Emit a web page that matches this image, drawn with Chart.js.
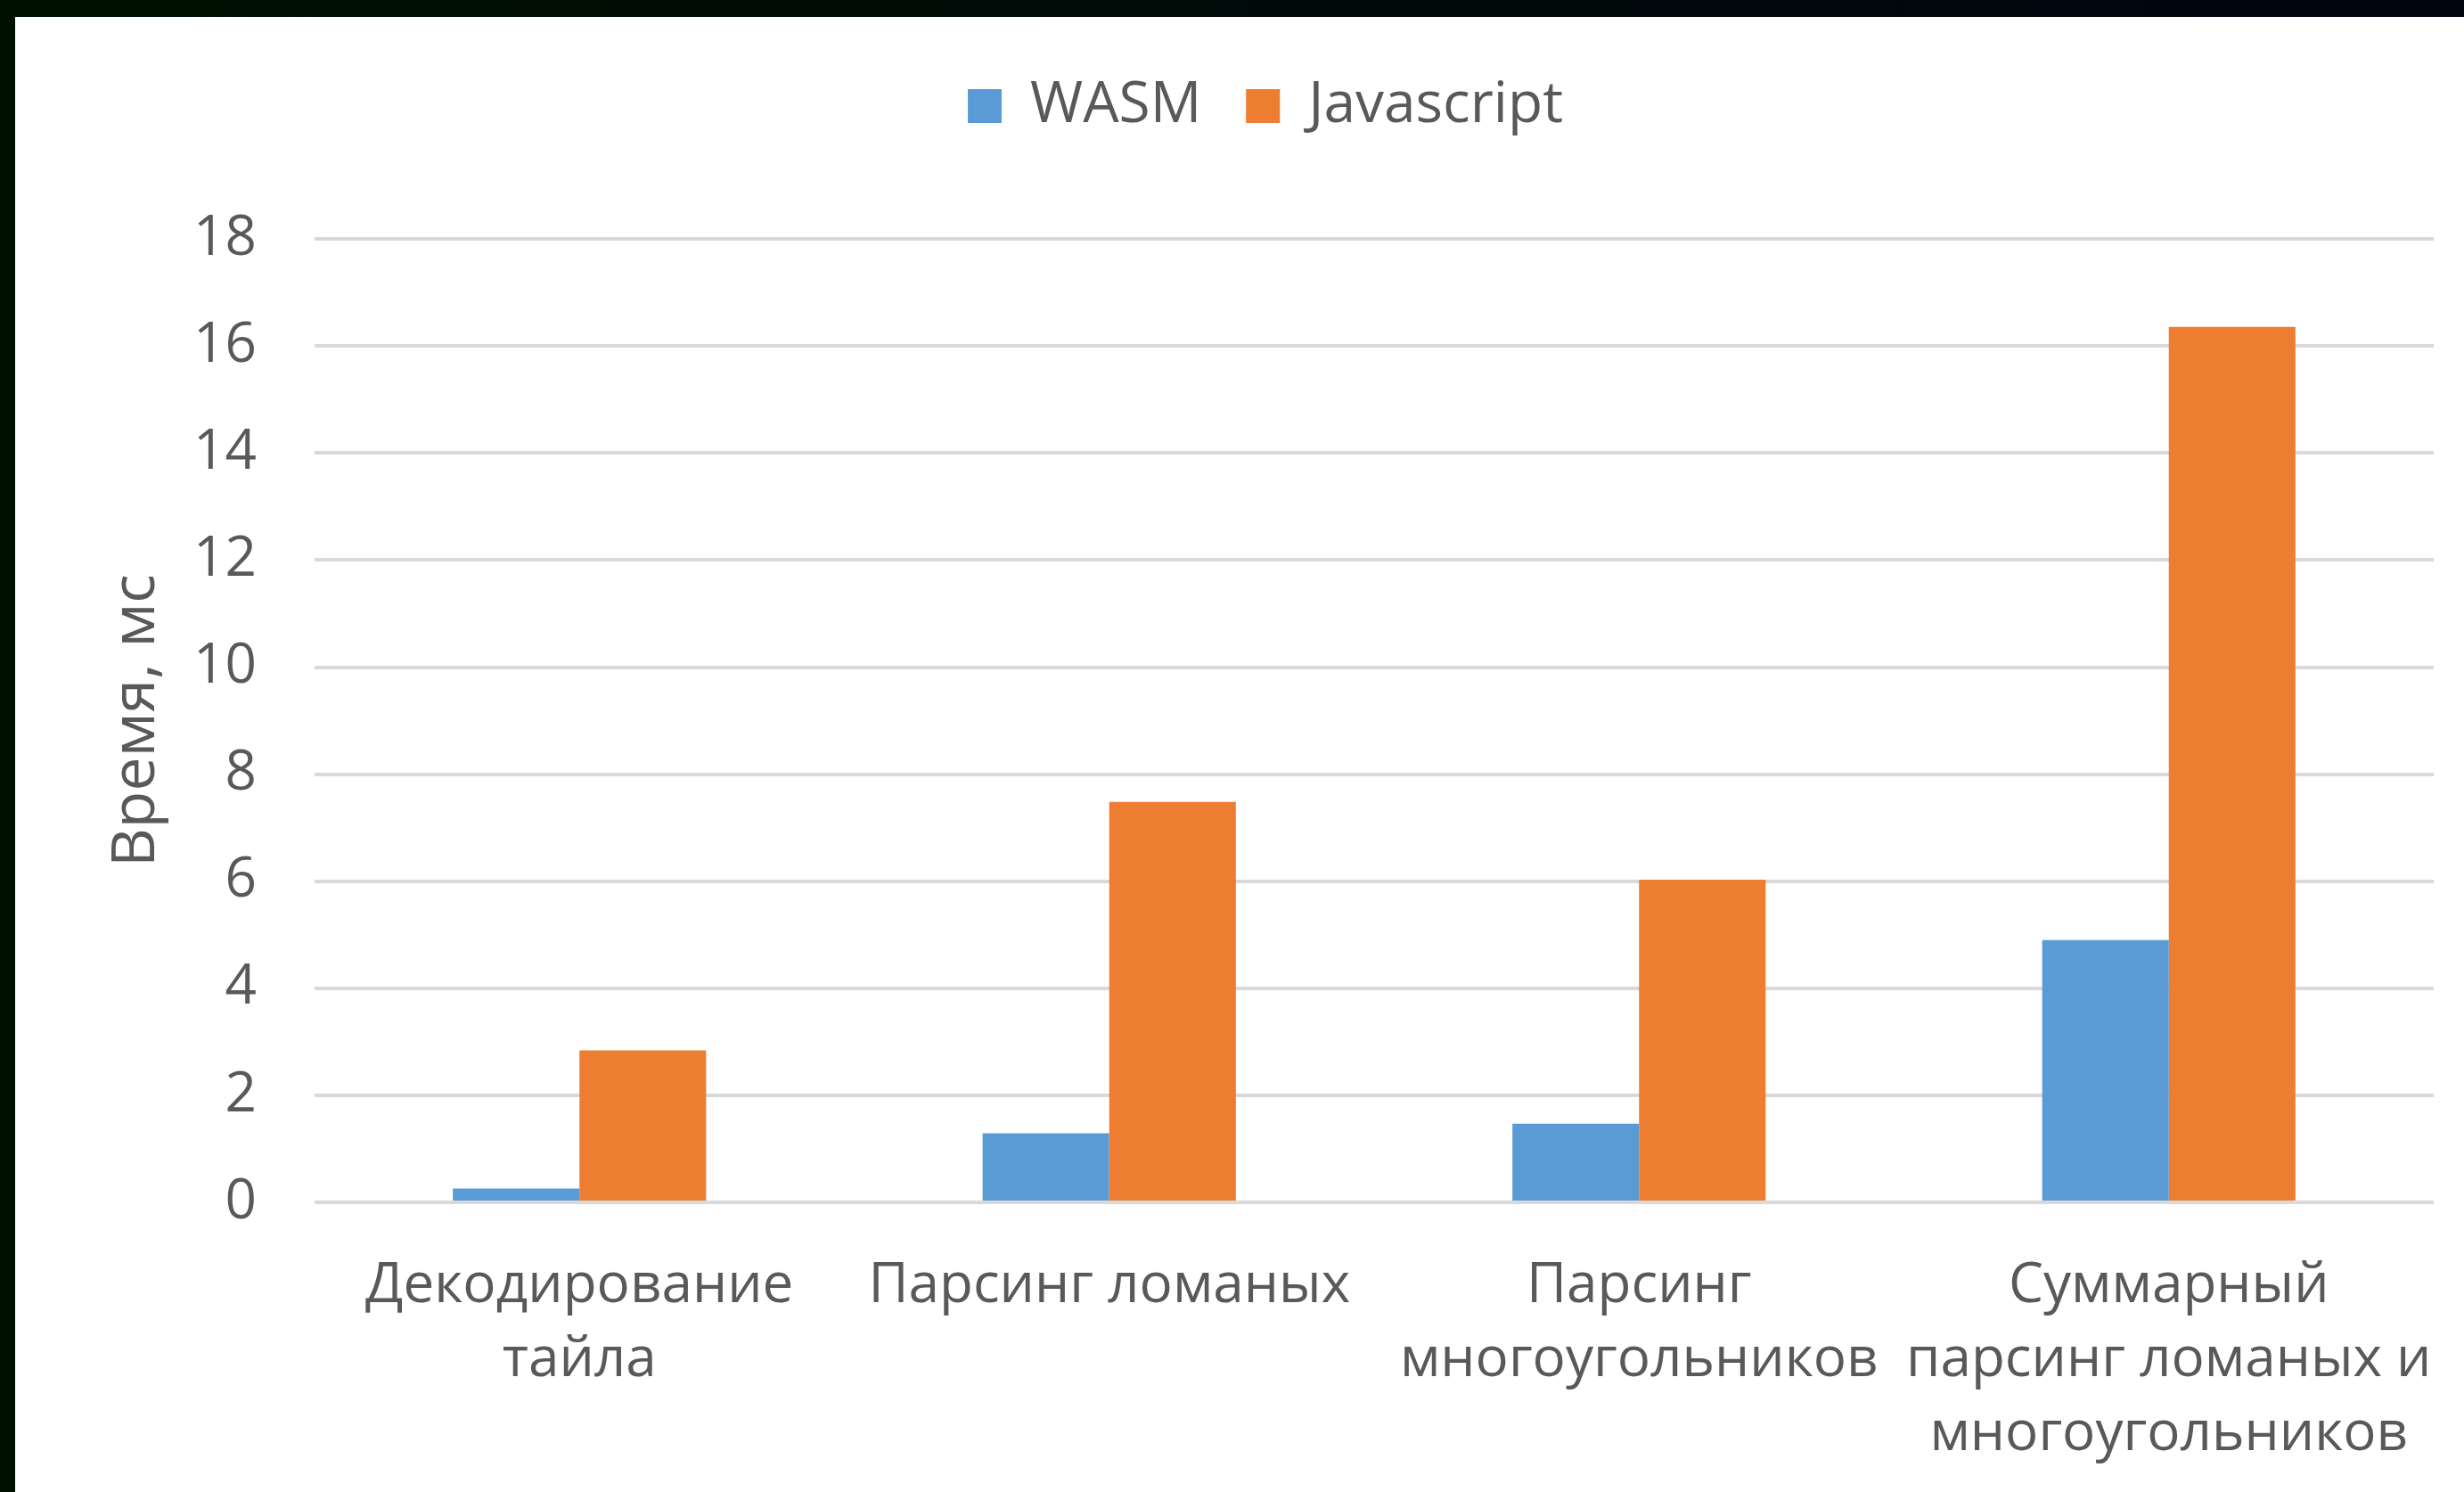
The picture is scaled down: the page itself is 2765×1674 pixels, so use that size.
<!DOCTYPE html>
<html>
<head>
<meta charset="utf-8">
<script src="https://cdn.jsdelivr.net/npm/chart.js@4"></script>
<style>
  html, body { margin: 0; padding: 0; width: 2765px; height: 1674px; overflow: hidden;
    background: linear-gradient(to right, #001100, #000a08 50%, #000510); }
  #wrap { position: absolute; left: 17px; top: 19px; width: 2748px; height: 1655px; background: #ffffff; }
  canvas { display: block; }
</style>
</head>
<body>
<div id="wrap"><canvas id="c" width="2748" height="1655"></canvas></div>
<script>
const categories = [
  ["Декодирование", "тайла"],
  ["Парсинг ломаных"],
  ["Парсинг", "многоугольников"],
  ["Суммарный", "парсинг ломаных и", "многоугольников"]
];
const wasmValues = [0.26, 1.29, 1.47, 4.9];
const jsValues = [2.84, 7.48, 6.03, 16.36];
const seriesNames = ["WASM", "Javascript"];
const yTitle = "Время, мс";

const FONT = "'Open Sans', 'Noto Sans', sans-serif";
const TEXT = "#595959";

new Chart(document.getElementById("c"), {
  type: "bar",
  data: {
    labels: categories,
    datasets: [
      { label: seriesNames[0], data: wasmValues, backgroundColor: "#5B9BD5", borderWidth: 0 },
      { label: seriesNames[1], data: jsValues, backgroundColor: "#ED7D31", borderWidth: 0 }
    ]
  },
  options: {
    responsive: false,
    animation: false,
    events: [],
    layout: { padding: { top: 18, left: 92, right: 34, bottom: 0 } },
    plugins: {
      legend: {
        position: "top",
        labels: {
          font: { family: FONT, size: 64 },
          color: TEXT,
          boxWidth: 38,
          boxHeight: 38,
          padding: 50
        }
      },
      title: {
        display: true,
        text: " ",
        position: "top",
        weight: 500,
        font: { size: 1 },
        padding: { top: 0, bottom: 106 }
      },
      tooltip: { enabled: false }
    },
    datasets: { bar: { barPercentage: 1, categoryPercentage: 0.478 } },
    scales: {
      x: {
        afterFit: (s) => { s.height = 325; s.paddingLeft = 0; s.paddingRight = 0; },
        grid: { display: false },
        border: { display: false },
        ticks: {
          font: { family: FONT, size: 62, lineHeight: 1.34 },
          color: TEXT,
          padding: 45,
          maxRotation: 0,
          autoSkip: false
        }
      },
      y: {
        min: 0, max: 18,
        afterFit: (s) => { s.width = 244; },
        grid: { color: "#D9D9D9", lineWidth: 4, drawTicks: false },
        border: { display: false },
        ticks: {
          stepSize: 2,
          font: { family: FONT, size: 62 },
          color: TEXT,
          padding: 65
        },
        title: {
          display: true,
          text: yTitle,
          font: { family: FONT, size: 68 },
          color: TEXT
        }
      }
    }
  }
});
</script>
</body>
</html>
